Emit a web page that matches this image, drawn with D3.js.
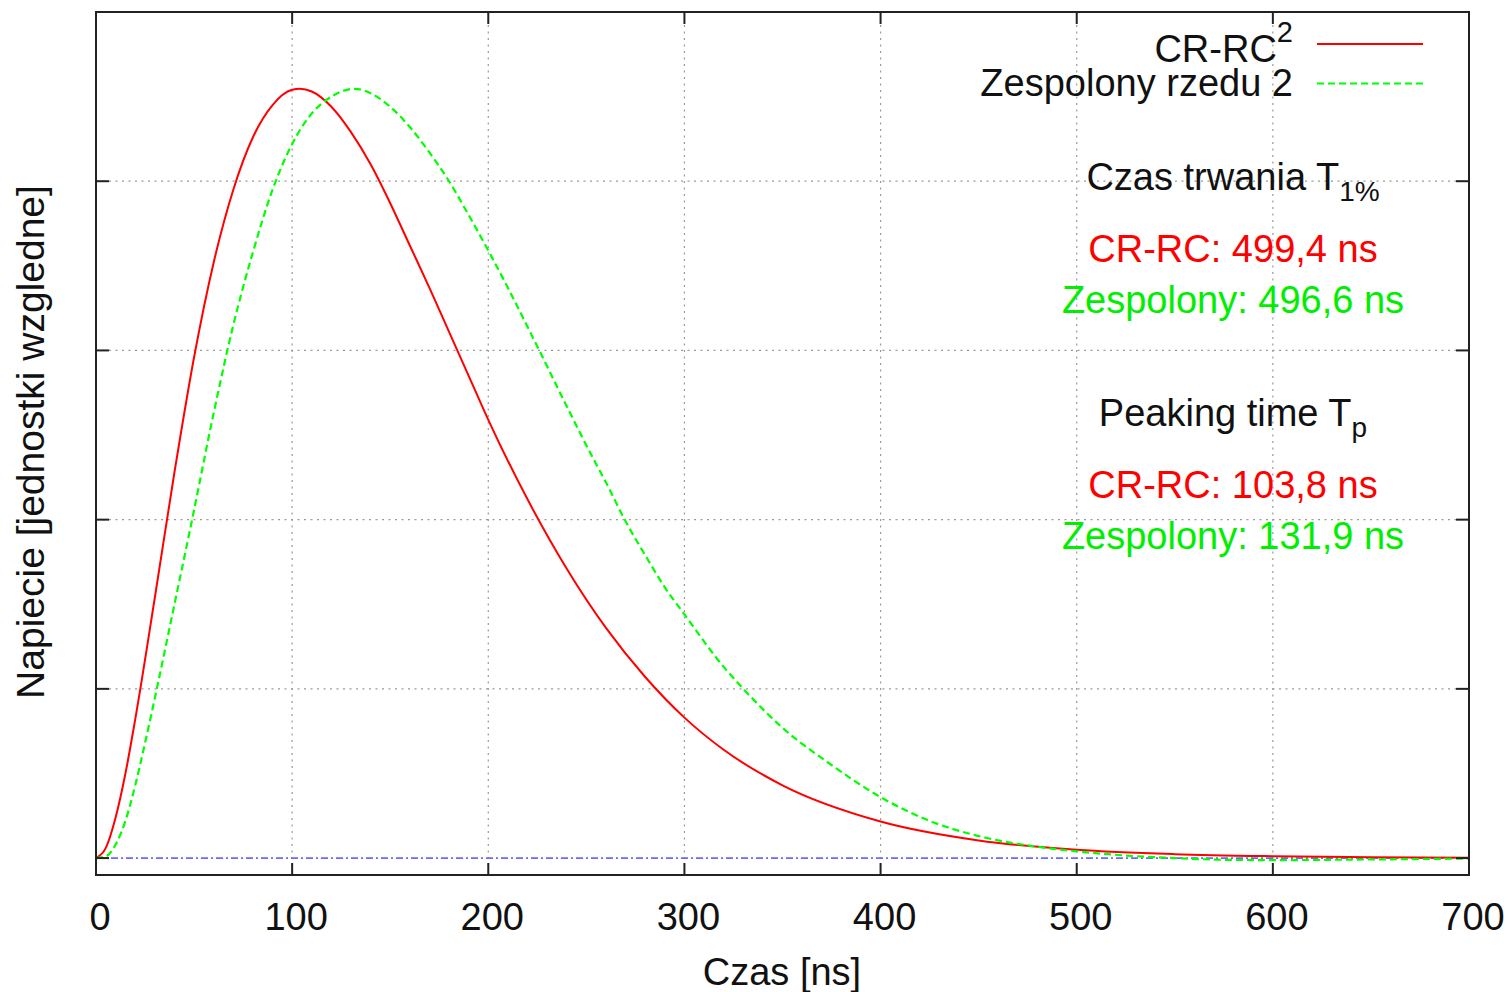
<!DOCTYPE html>
<html>
<head>
<meta charset="utf-8">
<style>
  body { margin: 0; background: #fff; }
  svg { display: block; font-family: "Liberation Sans", Arial, Helvetica, sans-serif; }
</style>
</head>
<body>
<svg width="1509" height="992"></svg>
<script src="https://d3js.org/d3.v7.min.js"></script>
<script>
// time axis [ns] and relative voltage
const tRed = [0, 5, 10, 15, 20, 30, 40, 50, 60, 70, 80, 90, 100, 104, 110, 120, 130, 140, 150, 160,
  170, 180, 190, 200, 220, 240, 260, 280, 300, 320, 350, 400, 450, 500, 550, 600, 650, 700];
const crrc = [0, 0.06, 0.24, 0.50, 0.82, 1.54, 2.28, 2.96, 3.52, 3.95, 4.26, 4.45, 4.54, 4.546, 4.53, 4.44, 4.29, 4.10, 3.87, 3.62,
  3.37, 3.11, 2.85, 2.59, 2.12, 1.71, 1.36, 1.07, 0.83, 0.64, 0.43, 0.216, 0.104, 0.049, 0.023, 0.011, 0.005, 0.002];

const tGreen = [0, 5, 10, 15, 20, 25, 31, 40, 49, 60, 70, 80, 90, 100, 110, 120, 132, 140, 150, 160,
  170, 180, 190, 200, 210, 220, 226, 240, 254, 260, 270, 280, 290, 300, 320, 330, 350, 375, 400, 425,
  450, 475, 500, 525, 550, 575, 600, 650, 700];
const complex2 = [0, 0.01, 0.08, 0.22, 0.43, 0.68, 1.0, 1.50, 2.0, 2.63, 3.15, 3.58, 3.95, 4.22, 4.40, 4.50, 4.546, 4.52, 4.44, 4.32,
  4.17, 4.0, 3.80, 3.59, 3.37, 3.14, 3.0, 2.67, 2.35, 2.22, 1.99, 1.79, 1.60, 1.44, 1.13, 1.0, 0.77, 0.55, 0.36, 0.22,
  0.13, 0.075, 0.04, 0.015, 0.0, -0.01, -0.012, -0.008, -0.003];

const xTicks = [0, 100, 200, 300, 400, 500, 600, 700];
const yTicks = [0, 1, 2, 3, 4, 5];   // no labels on this axis

const legendNames = ["CR-RC", "Zespolony rzedu 2"];
const durationTitle = ["Czas trwania T", "1%"];
const durationLines = ["CR-RC: 499,4 ns", "Zespolony: 496,6 ns"];
const peakTitle = ["Peaking time T", "p"];
const peakLines = ["CR-RC: 103,8 ns", "Zespolony: 131,9 ns"];

const red = "#ff0000", green = "#00ff00";

let svg = d3.select("svg");

let x = d3.scaleLinear().domain([0, 700]).range([96, 1469]);
let y = d3.scaleLinear().domain([-0.1, 5]).range([875, 12]);

// grid
svg.append("g")
    .attr("stroke", "#999")
    .attr("stroke-width", 1.2)
    .attr("stroke-dasharray", "2,4.5")
    .call(g => g.selectAll("line.gx")
        .data(xTicks.slice(1, -1))
        .join("line")
        .attr("x1", d => x(d)).attr("x2", d => x(d))
        .attr("y1", y(5)).attr("y2", y(-0.1)))
    .call(g => g.selectAll("line.gy")
        .data(yTicks.slice(1, -1))
        .join("line")
        .attr("class", "gy")
        .attr("y1", d => y(d)).attr("y2", d => y(d))
        .attr("x1", x(0)).attr("x2", x(700)));

// zero axis
svg.append("line")
    .attr("x1", x(0)).attr("x2", x(700))
    .attr("y1", y(0)).attr("y2", y(0))
    .attr("stroke", "#6a6aff")
    .attr("stroke-width", 1.6)
    .attr("stroke-dasharray", "7,3,2,3");

let line = d3.line()
    .x(d => x(d[0]))
    .y(d => y(d[1]))
    .curve(d3.curveMonotoneX);

svg.append("path")
    .datum(tRed.map((t, i) => [t, crrc[i]]))
    .attr("fill", "none")
    .attr("stroke", red)
    .attr("stroke-width", 2)
    .attr("d", line);

svg.append("path")
    .datum(tGreen.map((t, i) => [t, complex2[i]]))
    .attr("fill", "none")
    .attr("stroke", green)
    .attr("stroke-width", 2.2)
    .attr("stroke-dasharray", "7,4")
    .attr("d", line);

// frame and ticks (gnuplot style, inward, mirrored)
svg.append("rect")
    .attr("x", x(0)).attr("y", y(5))
    .attr("width", x(700) - x(0)).attr("height", y(-0.1) - y(5))
    .attr("fill", "none")
    .attr("stroke", "#222")
    .attr("stroke-width", 2);

let ticks = svg.append("g").attr("stroke", "#222").attr("stroke-width", 2);
ticks.selectAll("line.xb")
    .data(xTicks).join("line").attr("class", "xb")
    .attr("x1", d => x(d)).attr("x2", d => x(d))
    .attr("y1", y(-0.1)).attr("y2", y(-0.1) - 12);
ticks.selectAll("line.xt")
    .data(xTicks).join("line").attr("class", "xt")
    .attr("x1", d => x(d)).attr("x2", d => x(d))
    .attr("y1", y(5)).attr("y2", y(5) + 12);
ticks.selectAll("line.yl")
    .data(yTicks).join("line").attr("class", "yl")
    .attr("y1", d => y(d)).attr("y2", d => y(d))
    .attr("x1", x(0)).attr("x2", x(0) + 13);
ticks.selectAll("line.yr")
    .data(yTicks).join("line").attr("class", "yr")
    .attr("y1", d => y(d)).attr("y2", d => y(d))
    .attr("x1", x(700)).attr("x2", x(700) - 13);

// tick labels
svg.append("g")
    .attr("font-size", 38)
    .attr("fill", "#111")
    .attr("text-anchor", "middle")
    .selectAll("text")
    .data(xTicks)
    .join("text")
    .attr("x", d => x(d) + 4)
    .attr("y", 930)
    .text(d => d);

// axis titles
svg.append("text")
    .attr("x", 782).attr("y", 985)
    .attr("font-size", 38).attr("fill", "#111")
    .attr("text-anchor", "middle")
    .text("Czas [ns]");

svg.append("text")
    .attr("transform", "translate(44,442) rotate(-90)")
    .attr("font-size", 39).attr("fill", "#111")
    .attr("text-anchor", "middle")
    .text("Napiecie [jednostki wzgledne]");

// legend
let leg = svg.append("g").attr("font-size", 38).attr("fill", "#111").attr("text-anchor", "end");
let l1 = leg.append("text").attr("x", 1293).attr("y", 62);
l1.append("tspan").text(legendNames[0]);
l1.append("tspan").attr("font-size", 29).attr("dy", -20).text("2");
leg.append("text").attr("x", 1293).attr("y", 96).text(legendNames[1]);

svg.append("line")
    .attr("x1", 1317).attr("x2", 1423).attr("y1", 44).attr("y2", 44)
    .attr("stroke", red).attr("stroke-width", 2);
svg.append("line")
    .attr("x1", 1317).attr("x2", 1423).attr("y1", 83.5).attr("y2", 83.5)
    .attr("stroke", green).attr("stroke-width", 2.2)
    .attr("stroke-dasharray", "7,4");

// annotation block
let info = svg.append("g").attr("font-size", 38).attr("text-anchor", "middle");
const cx = 1233;

function titleWithSub(parts, yy) {
    let t = info.append("text").attr("x", cx).attr("y", yy).attr("fill", "#111");
    t.append("tspan").text(parts[0]);
    t.append("tspan").attr("font-size", 28).attr("dy", 11).text(parts[1]);
}

titleWithSub(durationTitle, 190);
info.append("text").attr("x", cx).attr("y", 262).attr("fill", red).text(durationLines[0]);
info.append("text").attr("x", cx).attr("y", 313).attr("fill", "#00ee00").text(durationLines[1]);

titleWithSub(peakTitle, 426);
info.append("text").attr("x", cx).attr("y", 498).attr("fill", red).text(peakLines[0]);
info.append("text").attr("x", cx).attr("y", 549).attr("fill", "#00ee00").text(peakLines[1]);
</script>
</body>
</html>
